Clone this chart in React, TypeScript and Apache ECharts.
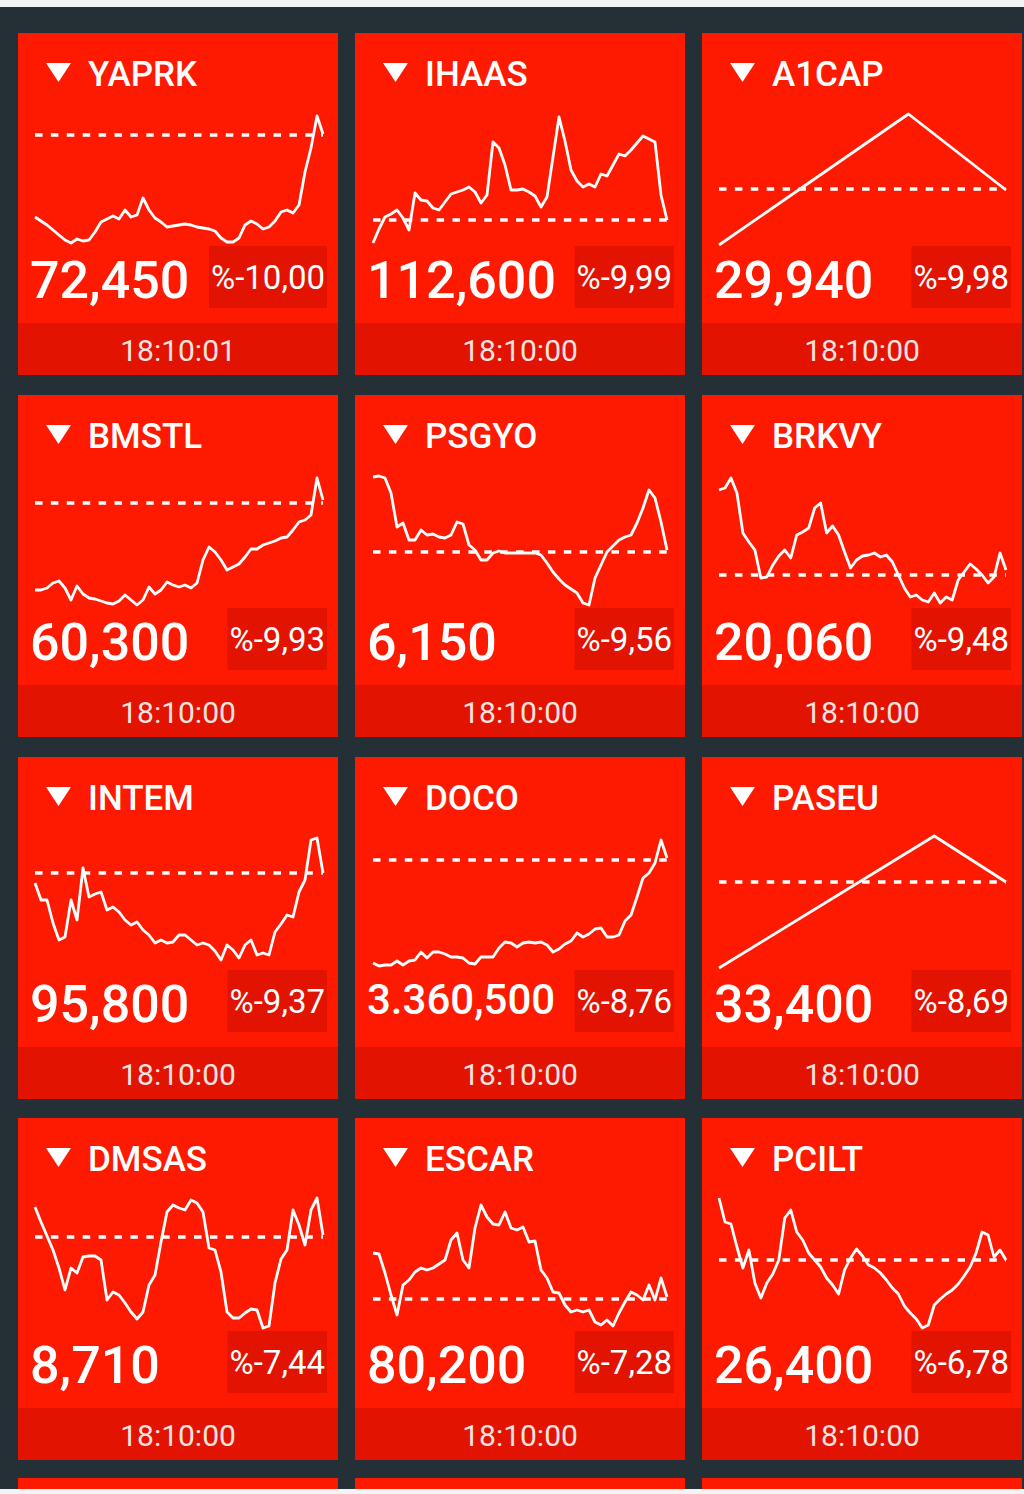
import React, { useEffect, useRef } from 'react';
import * as echarts from 'echarts';

// ---- data ----
const tickers = ['YAPRK', 'IHAAS', 'A1CAP', 'BMSTL', 'PSGYO', 'BRKVY', 'INTEM', 'DOCO', 'PASEU', 'DMSAS', 'ESCAR', 'PCILT'];
const prices = ['72,450', '112,600', '29,940', '60,300', '6,150', '20,060', '95,800', '3.360,500', '33,400', '8,710', '80,200', '26,400'];
const changes = ['%-10,00', '%-9,99', '%-9,98', '%-9,93', '%-9,56', '%-9,48', '%-9,37', '%-8,76', '%-8,69', '%-7,44', '%-7,28', '%-6,78'];
const updateTimes = ['18:10:01', '18:10:00', '18:10:00', '18:10:00', '18:10:00', '18:10:00', '18:10:00', '18:10:00', '18:10:00', '18:10:00', '18:10:00', '18:10:00'];
// reference (previous close) level for each sparkline, in the same relative units as the series
const refLevels = [113, 28, 59, 107, 58, 35, 99, 112, 90, 96, 34, 73];

const yaprk = [31, 27, 23, 18, 13, 8, 5, 9, 7, 8, 16, 26, 29, 32, 29, 38, 31, 33, 50, 38, 30, 26, 21, 22, 23, 24, 23, 21, 20, 19, 17, 10, 6, 6, 10, 23, 27, 24, 19, 21, 27, 36, 38, 35, 43, 76, 100, 132, 114];
const ihaas = [5, 19, 31, 34, 38, 30, 18, 55, 48, 47, 40, 38, 46, 54, 56, 58, 61, 56, 45, 53, 106, 100, 83, 58, 58, 59, 56, 52, 41, 51, 91, 131, 107, 78, 67, 61, 64, 61, 74, 72, 83, 94, 92, 98, 105, 112, 109, 106, 53, 28];
const a1cap = [3, 134, 58];
const a1capTimes = [0, 66, 100];
const bmstl = [20, 20, 22, 27, 29, 22, 10, 24, 16, 12, 11, 9, 7, 6, 9, 15, 10, 5, 10, 23, 16, 20, 28, 25, 23, 25, 22, 27, 50, 63, 58, 50, 40, 43, 46, 53, 61, 61, 65, 67, 69, 72, 73, 80, 88, 90, 95, 132, 110];
const psgyo = [133, 134, 132, 117, 83, 87, 70, 70, 80, 75, 76, 73, 72, 75, 88, 86, 65, 60, 50, 50, 57, 59, 57, 57, 57, 57, 57, 57, 55, 47, 38, 31, 25, 21, 17, 7, 5, 32, 45, 58, 64, 70, 73, 75, 87, 102, 120, 112, 88, 60];
const brkvy = [120, 122, 132, 117, 77, 68, 60, 32, 33, 45, 54, 60, 52, 75, 78, 82, 102, 107, 77, 84, 75, 58, 42, 50, 54, 55, 57, 53, 55, 48, 35, 22, 13, 15, 10, 8, 17, 7, 13, 10, 30, 38, 46, 41, 35, 27, 33, 57, 40];
const intem = [89, 72, 72, 49, 32, 35, 72, 52, 104, 75, 78, 80, 62, 65, 60, 52, 47, 50, 42, 37, 29, 32, 29, 30, 37, 37, 32, 27, 29, 27, 21, 12, 27, 22, 14, 27, 32, 17, 19, 17, 40, 48, 57, 55, 80, 92, 132, 134, 99];
const doco = [9, 6, 7, 7, 11, 7, 11, 12, 20, 14, 20, 20, 18, 15, 15, 14, 9, 8, 15, 15, 15, 24, 30, 29, 25, 29, 30, 29, 30, 27, 20, 23, 28, 31, 39, 35, 38, 43, 44, 35, 35, 37, 51, 57, 75, 94, 99, 109, 132, 114];
const paseu = [4, 136, 90];
const paseuTimes = [0, 75, 100];
const dmsas = [126, 111, 97, 83, 65, 43, 65, 60, 76, 77, 77, 73, 33, 41, 38, 30, 21, 14, 21, 48, 58, 91, 121, 128, 125, 123, 133, 130, 121, 85, 83, 61, 21, 15, 15, 20, 24, 23, 5, 7, 50, 74, 83, 123, 108, 88, 123, 135, 98];
const escar = [80, 79, 60, 38, 18, 48, 53, 61, 65, 63, 65, 69, 73, 93, 100, 73, 65, 105, 128, 116, 109, 108, 121, 105, 103, 106, 91, 92, 63, 55, 41, 40, 28, 21, 23, 21, 23, 11, 8, 13, 7, 20, 31, 41, 38, 33, 48, 33, 55, 36];
const pcilt = [135, 111, 109, 86, 65, 83, 50, 35, 50, 59, 73, 115, 123, 101, 93, 80, 73, 66, 55, 48, 39, 63, 75, 84, 77, 68, 65, 60, 53, 45, 39, 27, 20, 14, 5, 8, 28, 34, 39, 43, 49, 57, 66, 80, 101, 98, 76, 83, 73];

const seriesValues = [yaprk, ihaas, a1cap, bmstl, psgyo, brkvy, intem, doco, paseu, dmsas, escar, pcilt];
const seriesTimes: (number[] | null)[] = [null, null, a1capTimes, null, null, null, null, null, paseuTimes, null, null, null];

// ---- layout ----
const W = 1024;
const H = 1494;
const colLefts = [18, 355, 702];
const colWidths = [320, 330, 320];
const plotLefts = [35, 373, 719];
const plotWidths = [288, 294, 287];
const rowTops = [33, 395, 757, 1118];
const TILE_H = 342;
const RED = '#fe1a00';
const DARK_RED = '#e21300';
const BG = '#243036';
const FONT = 'Roboto, "Noto Sans", sans-serif';

export default function App() {
  const ref = useRef<HTMLDivElement>(null);

  useEffect(() => {
    document.body.style.margin = '0';
    const chart = echarts.init(ref.current!, null, { renderer: 'svg', width: W, height: H });

    const grids: any[] = [];
    const xAxes: any[] = [];
    const yAxes: any[] = [];
    const series: any[] = [];
    const elements: any[] = [];

    elements.push({ type: 'rect', z: 0, shape: { x: 0, y: 0, width: W, height: H }, style: { fill: '#f4f4f4' } });
    elements.push({ type: 'rect', z: 0, shape: { x: 0, y: 7, width: W, height: 1482 }, style: { fill: BG } });

    // partial next row at the bottom
    for (let c = 0; c < 3; c++) {
      elements.push({ type: 'rect', z: 1, shape: { x: colLefts[c], y: 1478, width: colWidths[c], height: 11 }, style: { fill: RED } });
    }

    tickers.forEach((tk, i) => {
      const r = Math.floor(i / 3);
      const c = i % 3;
      const L = colLefts[c];
      const Wd = colWidths[c];
      const T = rowTops[r];
      const vals = seriesValues[i];
      const ts = seriesTimes[i];

      grids.push({ left: plotLefts[c], top: T + 75, width: plotWidths[c], height: 140, containLabel: false });
      xAxes.push({ type: 'value', gridIndex: i, min: 0, max: ts ? ts[ts.length - 1] : vals.length - 1, show: false });
      yAxes.push({ type: 'value', gridIndex: i, min: 0, max: 140, show: false });
      series.push({
        type: 'line',
        xAxisIndex: i,
        yAxisIndex: i,
        data: vals.map((v, k) => [ts ? ts[k] : k, v]),
        showSymbol: false,
        symbol: 'none',
        clip: false,
        z: 5,
        lineStyle: { color: '#ffffff', width: 2.8, join: 'round' },
        markLine: {
          silent: true,
          symbol: 'none',
          label: { show: false },
          lineStyle: { color: '#ffffff', width: 3.5, type: [7.5, 8.4] },
          data: [{ yAxis: refLevels[i] }],
        },
      });

      // tile
      elements.push({ type: 'rect', z: 1, shape: { x: L, y: T, width: Wd, height: TILE_H }, style: { fill: RED } });
      elements.push({ type: 'rect', z: 2, shape: { x: L, y: T + 290, width: Wd, height: TILE_H - 290 }, style: { fill: DARK_RED } });
      // triangle
      elements.push({
        type: 'polygon',
        z: 10,
        shape: { points: [[L + 28, T + 30], [L + 53, T + 30], [L + 40.5, T + 49]] },
        style: { fill: '#ffffff' },
      });
      // title
      elements.push({
        type: 'text', z: 10, x: L + 70, y: T + 41,
        style: { text: tk, fill: '#ffffff', font: `500 35px ${FONT}`, align: 'left', verticalAlign: 'middle' },
      });
      // price
      const long = prices[i].length > 7;
      elements.push({
        type: 'text', z: 10, x: L + 12, y: T + (long ? 242 : 247),
        style: { text: prices[i], fill: '#ffffff', font: `500 ${long ? 42 : 52}px ${FONT}`, align: 'left', verticalAlign: 'middle' },
      });
      // change box
      elements.push({
        type: 'text', z: 10, x: L + Wd - 11, y: T + 244,
        style: {
          text: changes[i], fill: '#ffffff', font: `400 33px ${FONT}`, lineHeight: 32,
          align: 'right', verticalAlign: 'middle',
          backgroundColor: DARK_RED, padding: [15, 2, 15, 2],
        },
      });
      // time
      elements.push({
        type: 'text', z: 10, x: L + Wd / 2, y: T + 317,
        style: { text: updateTimes[i], fill: '#f7e4e1', font: `400 30px ${FONT}`, align: 'center', verticalAlign: 'middle' },
      });
    });

    chart.setOption({
      animation: false,
      backgroundColor: '#f4f4f4',
      grid: grids,
      xAxis: xAxes,
      yAxis: yAxes,
      series,
      graphic: { elements },
    });

    return () => chart.dispose();
  }, []);

  return <div ref={ref} style={{ width: W, height: H, position: 'absolute', left: 0, top: 0 }} />;
}
